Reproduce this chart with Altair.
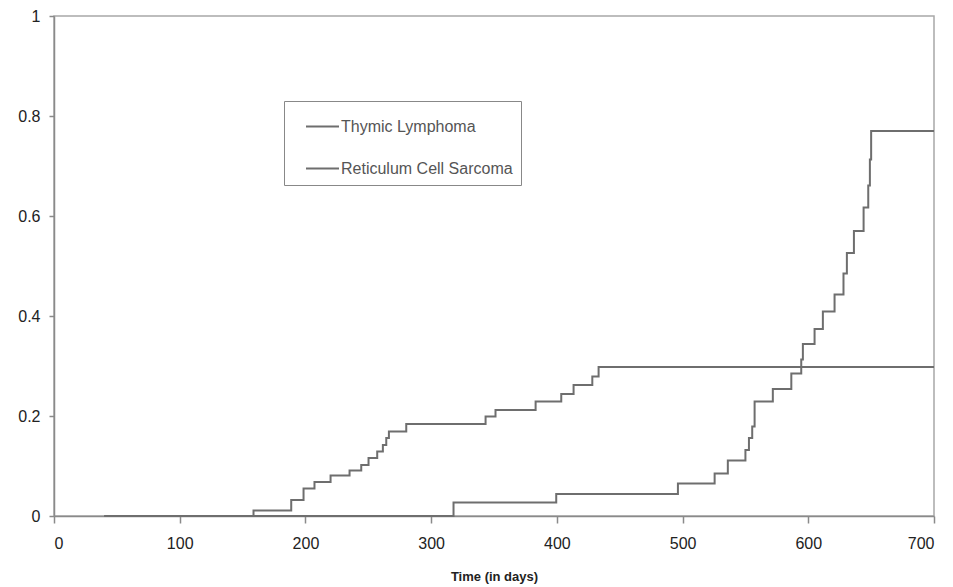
import altair as alt
import pandas as pd

# Cumulative incidence step data (day, value from that day on)
thymic_days = [40, 158.7, 188.7, 198.5, 207.2, 220, 235.1, 244.4, 250.2, 257.1, 261.6,
               264.3, 266.4, 280.2, 343.3, 351.2, 383.1, 403.5, 413.3, 428.2, 433.2, 700]
thymic_vals = [0, 0.011, 0.032, 0.055, 0.068, 0.081, 0.091, 0.102, 0.116, 0.129, 0.142,
               0.156, 0.169, 0.184, 0.199, 0.212, 0.229, 0.244, 0.262, 0.279, 0.298, 0.298]

rcs_days = [40, 317.8, 399.5, 496.3, 525.5, 536, 550, 552.8, 555.4, 557.3, 571.8, 586.5,
            594.4, 595.7, 605, 611.6, 620.9, 628, 630.7, 636.3, 644, 647.7, 649, 650, 700]
rcs_vals = [0, 0.027, 0.044, 0.065, 0.085, 0.111, 0.132, 0.156, 0.179, 0.229, 0.254, 0.285,
            0.313, 0.344, 0.374, 0.409, 0.443, 0.485, 0.526, 0.570, 0.617, 0.661, 0.713, 0.770, 0.770]

series_names = ["Thymic Lymphoma", "Reticulum Cell Sarcoma"]
x_ticks = [0, 100, 200, 300, 400, 500, 600, 700]
y_ticks = [0, 0.2, 0.4, 0.6, 0.8, 1]

rows = []
for d, v in zip(thymic_days, thymic_vals):
    rows.append({"day": d, "value": v, "series": series_names[0], "order": 0})
for d, v in zip(rcs_days, rcs_vals):
    rows.append({"day": d, "value": v, "series": series_names[1], "order": 1})
df = pd.DataFrame(rows)

FONT = "Liberation Sans, Arial, sans-serif"
LINE = "#6e6e6e"
PAD = "\u00a0\u00a0\u00a0"  # invisible right-side spacing inside the legend box

chart = alt.Chart(df).mark_line(interpolate="step-after", strokeWidth=2).encode(
    x=alt.X("day:Q",
            scale=alt.Scale(domain=[0, 700], nice=False, zero=False),
            axis=alt.Axis(values=x_ticks, title="Time (in days)", grid=False,
                          tickSize=7, labelPadding=12, titlePadding=19)),
    y=alt.Y("value:Q",
            scale=alt.Scale(domain=[0, 1], nice=False),
            axis=alt.Axis(values=y_ticks, format="~g", title=None, grid=False,
                          tickSize=5, labelPadding=9)),
    color=alt.Color("series:N",
                    scale=alt.Scale(domain=series_names, range=[LINE, LINE]),
                    legend=alt.Legend(
                        title=None, orient="none", legendX=230, legendY=85,
                        symbolType="stroke", symbolSize=1089, symbolStrokeWidth=2,
                        labelFont=FONT, labelFontSize=16, labelColor="#555555",
                        labelExpr="datum.label + '" + PAD + "'", labelLimit=0,
                        labelOffset=1, rowPadding=16, padding=8, symbolOffset=13,
                        strokeColor="#888888", fillColor="white",
                    )),
    detail="order:N",
).properties(
    width=880, height=500,
    autosize=alt.AutoSizeParams(type="none"),
    padding={"left": 46, "top": 8, "right": 10, "bottom": 70},
).configure_view(
    stroke="#a8a8a8", strokeWidth=1.5
).configure_axis(
    domainColor="#8a8a8a", domainWidth=1.5, tickColor="#8a8a8a", tickWidth=1.5,
    labelFont=FONT, labelFontSize=16, labelColor="#222222",
    titleFont=FONT, titleFontSize=13, titleFontWeight="bold", titleColor="#222222",
)

chart.save("out.html", embed_options={"renderer": "svg", "actions": False})
